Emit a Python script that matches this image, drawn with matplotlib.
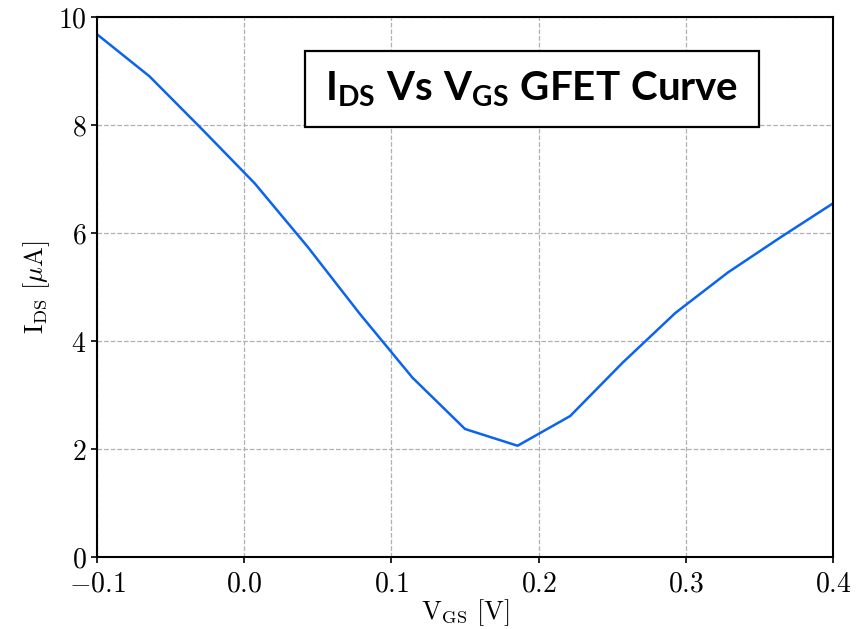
"""I_DS vs V_GS GFET transfer curve."""

import matplotlib

matplotlib.use("Agg")
import matplotlib.pyplot as plt  # noqa: E402
from matplotlib.patches import Rectangle  # noqa: E402
from matplotlib.ticker import FuncFormatter, MultipleLocator  # noqa: E402

plt.rcParams["mathtext.fontset"] = "cm"
plt.rcParams["mathtext.rm"] = "Lato:bold"
plt.rcParams["mathtext.it"] = "Lato:bold"
plt.rcParams["mathtext.bf"] = "Lato:bold"

BLUE = "#0a64f0"

vgs = [-0.1, -0.0643, -0.0286, 0.0071, 0.0429, 0.0786, 0.1143, 0.15,
       0.1857, 0.2214, 0.2571, 0.2929, 0.3286, 0.3643, 0.4]
ids = [9.68, 8.9, 7.92, 6.92, 5.75, 4.5, 3.32, 2.37,
       2.06, 2.61, 3.6, 4.52, 5.27, 5.92, 6.55]

fig = plt.figure(figsize=(8.62, 6.29), dpi=100)
ax = fig.add_axes([0.1125, 0.1145, 0.854, 0.8585])

ax.plot(vgs, ids, color=BLUE, lw=1.8)

ax.set_xlim(-0.1, 0.4)
ax.set_ylim(0, 10)
ax.xaxis.set_major_locator(MultipleLocator(0.1))
ax.yaxis.set_major_locator(MultipleLocator(2))
ax.xaxis.set_major_formatter(FuncFormatter(lambda v, _: f"${v:.1f}$"))
ax.yaxis.set_major_formatter(FuncFormatter(lambda v, _: f"${v:.0f}$"))
ax.grid(True, ls="--", color="#b0b0b0", lw=0.9)
ax.tick_params(labelsize=20, length=4, width=1.2, colors="black")
ax.tick_params(axis="x", pad=5)
for s in ax.spines.values():
    s.set_linewidth(1.5)

ax.set_xlabel(r"$\mathrm{V_{GS}}\ [\mathrm{V}]$", fontsize=19, labelpad=0)
ax.set_ylabel(r"$\mathrm{I_{DS}}\ [\mu\mathrm{A}]$", fontsize=19, labelpad=4)

# title box drawn in axes coordinates
ax.add_patch(Rectangle((0.2826, 0.7963), 0.6169, 0.1407, transform=ax.transAxes,
                       fc="white", ec="black", lw=1.6, zorder=5))
ax.text(0.591, 0.866, r"$\mathbf{I_{DS}\ Vs\ V_{GS}\ GFET\ Curve}$",
        transform=ax.transAxes, ha="center", va="center", fontsize=29,
        math_fontfamily="custom", zorder=6)

fig.savefig("out.png", dpi=100, facecolor="white")
